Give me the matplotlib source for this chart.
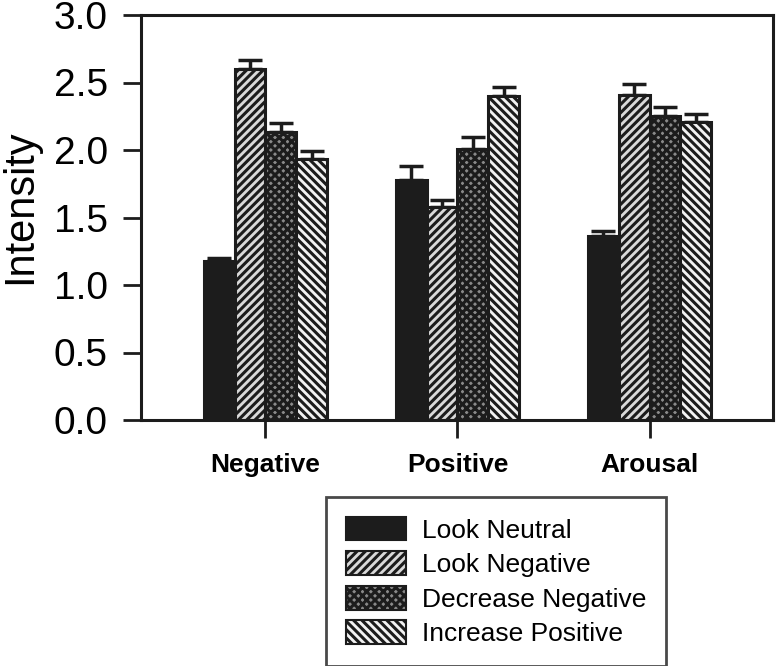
import numpy as np
import matplotlib
matplotlib.use("Agg")
import matplotlib.pyplot as plt
from matplotlib.patches import Patch

plt.rcParams["font.family"] = ["Liberation Sans", "DejaVu Sans"]
plt.rcParams["hatch.linewidth"] = 2.2

categories = ["Negative", "Positive", "Arousal"]
conditions = ["Look Neutral", "Look Negative", "Decrease Negative", "Increase Positive"]

look_neutral = [1.18, 1.78, 1.36]
look_negative = [2.60, 1.58, 2.41]
decrease_negative = [2.13, 2.01, 2.25]
increase_positive = [1.93, 2.40, 2.21]

err_look_neutral = [0.02, 0.10, 0.04]
err_look_negative = [0.07, 0.05, 0.08]
err_decrease_negative = [0.07, 0.09, 0.07]
err_increase_positive = [0.06, 0.07, 0.06]

values = [look_neutral, look_negative, decrease_negative, increase_positive]
errors = [err_look_neutral, err_look_negative, err_decrease_negative, err_increase_positive]

# (face colour, hatch) per condition
styles = [
    ("#1c1c1c", None),
    ("#d9d9d9", "////"),
    ("#8a8a8a", "xxxx"),
    ("#f2f2f2", "\\\\\\\\"),
]

fig = plt.figure(figsize=(7.76, 6.66), dpi=100)
ax = fig.add_axes([141 / 776, 1 - 420 / 666, (773 - 141) / 776, (420 - 15) / 666])

x = np.arange(1, len(categories) + 1)
w = 0.16
for i, (vals, errs, (fc, hatch)) in enumerate(zip(values, errors, styles)):
    pos = x + (i - 1.5) * w
    ax.bar(pos, vals, width=w, color=fc, edgecolor="#1c1c1c", hatch=hatch,
           linewidth=2.2, zorder=2)
    ax.errorbar(pos, vals, yerr=[np.zeros(len(errs)), errs], fmt="none",
                ecolor="#1c1c1c", elinewidth=2.5, capsize=8.5, capthick=2.5, zorder=1)

ax.set_xlim(0.352, 3.643)
ax.set_ylim(0, 3.0)
ticks = np.arange(0, 3.01, 0.5)
ax.set_yticks(ticks)
ax.set_yticklabels([f"{v:.1f}" for v in ticks], fontsize=28)
ax.set_xticks(x)
ax.set_xticklabels(categories, fontsize=19, fontweight="bold")
ax.tick_params(axis="both", direction="out", length=13, width=2, color="#1c1c1c")
ax.tick_params(axis="y", pad=11)
ax.tick_params(axis="x", pad=11)
for s in ax.spines.values():
    s.set_linewidth(2.2)
    s.set_color("#1c1c1c")
ax.set_ylabel("Intensity", fontsize=30)
ax.yaxis.set_label_coords(-0.16, 0.526)

handles = [Patch(facecolor=fc, edgecolor="#1c1c1c", hatch=h, linewidth=1.5, label=c)
           for c, (fc, h) in zip(conditions, styles)]
leg = fig.legend(handles=handles, loc="upper left",
                 bbox_to_anchor=(326 / 776, 1 - 497 / 666), fontsize=19,
                 frameon=True, fancybox=False, edgecolor="#1c1c1c",
                 handlelength=2.3, handleheight=1.0, labelspacing=0.33,
                 borderpad=0.75, handletextpad=0.57, borderaxespad=0)
leg.get_frame().set_linewidth(2)

fig.savefig("out.png", dpi=100)
